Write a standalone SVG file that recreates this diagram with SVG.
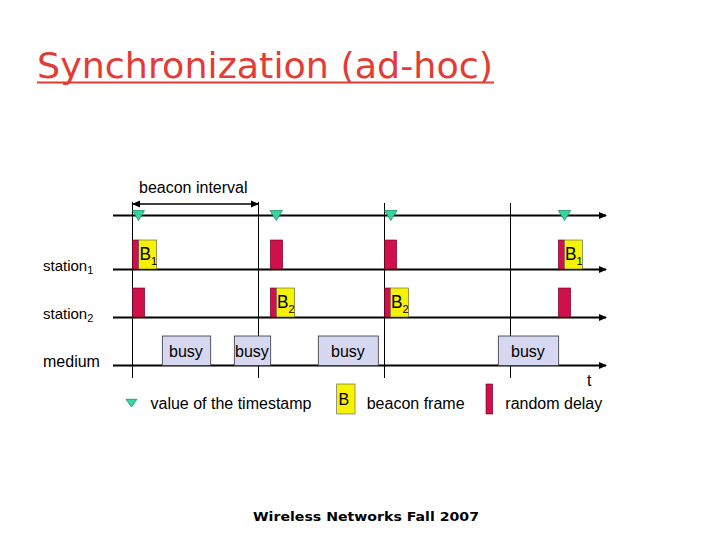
<svg xmlns="http://www.w3.org/2000/svg" width="720" height="540" viewBox="0 0 720 540">
<style>
text{font-family:"Liberation Sans",Arial,sans-serif;fill:#000}
.tl{stroke:#000;stroke-width:2;fill:none}
.vl{stroke:#000;stroke-width:1;fill:none}
.ts{fill:#33d6a0;stroke:#1f8f6a;stroke-width:0.8}
.rd{fill:#d0104c;stroke:#700020;stroke-width:0.6}
.yb{fill:#f7f200;stroke:#555;stroke-width:0.6}
.bz{fill:#d6d7f0;stroke:#333;stroke-width:0.8}
.lb{font-size:16px}
.bl{font-size:18px}
.sb{font-size:11px}
</style>
<defs>
<marker id="ah" markerWidth="8" markerHeight="8" refX="7" refY="4" orient="auto" markerUnits="userSpaceOnUse">
<path d="M0,0.5 L8,4 L0,7.5 Z" fill="#000"/>
</marker>
<marker id="ah2" markerWidth="8" markerHeight="8" refX="7" refY="4" orient="auto-start-reverse" markerUnits="userSpaceOnUse">
<path d="M0,0.5 L8,4 L0,7.5 Z" fill="#000"/>
</marker>
</defs>
<rect width="720" height="540" fill="#fff"/>
<g id="title">
<text x="37" y="78" style="font-family:'DejaVu Sans',Verdana,sans-serif;font-size:36px;fill:#e33b36" textLength="456" lengthAdjust="spacingAndGlyphs">Synchronization (ad-hoc)</text>
<line x1="37" y1="82.5" x2="494" y2="82.5" stroke="#e33b36" stroke-width="2"/>
</g>
<g id="connectors">
<line class="vl" x1="132.5" y1="202" x2="132.5" y2="378"/>
<line class="vl" x1="258.5" y1="202" x2="258.5" y2="378"/>
<line class="vl" x1="384.5" y1="203" x2="384.5" y2="378"/>
<line class="vl" x1="510.5" y1="203" x2="510.5" y2="378"/>
<line class="tl" x1="113" y1="215.5" x2="606" y2="215.5" marker-end="url(#ah)"/>
<line class="tl" x1="113" y1="269.5" x2="606" y2="269.5" marker-end="url(#ah)"/>
<line class="tl" x1="113" y1="317.5" x2="606" y2="317.5" marker-end="url(#ah)"/>
<line class="tl" x1="113" y1="365.5" x2="606" y2="365.5" marker-end="url(#ah)"/>
<line x1="133" y1="204" x2="258" y2="204" stroke="#000" stroke-width="1.5" marker-start="url(#ah2)" marker-end="url(#ah)"/>
</g>
<g id="labels">
<text class="lb" x="139" y="192.5">beacon interval</text>
<text x="43" y="270.5" font-size="15">station<tspan font-size="11" dy="3">1</tspan></text>
<text x="43" y="319" font-size="15">station<tspan font-size="11" dy="3">2</tspan></text>
<text x="43" y="366.5" font-size="16">medium</text>
<text class="lb" x="587" y="386">t</text>
</g>
<g id="timestamps">
<polygon class="ts" points="132.5,210.5 144.5,210.5 138.5,220.5"/>
<polygon class="ts" points="270,210.5 282.5,210.5 276.2,220.5"/>
<polygon class="ts" points="384.5,210.5 397,210.5 390.8,220.5"/>
<polygon class="ts" points="558.3,210.5 570.7,210.5 564.5,220.5"/>
</g>
<g id="station1">
<rect class="rd" x="132.5" y="240" width="6.2" height="29"/>
<rect class="yb" x="138.7" y="240" width="18" height="29"/>
<text class="bl" x="139.5" y="260" textLength="11.5" lengthAdjust="spacingAndGlyphs">B</text><text class="sb" x="151" y="265">1</text>
<rect class="rd" x="270.3" y="240" width="12.4" height="29"/>
<rect class="rd" x="384.5" y="240" width="12.2" height="29"/>
<rect class="rd" x="558.3" y="240" width="6" height="29"/>
<rect class="yb" x="564.3" y="240" width="18" height="29"/>
<text class="bl" x="565" y="260" textLength="11.5" lengthAdjust="spacingAndGlyphs">B</text><text class="sb" x="576.5" y="265">1</text>
</g>
<g id="station2">
<rect class="rd" x="132.5" y="288" width="12.2" height="29"/>
<rect class="rd" x="270.3" y="288" width="6" height="29"/>
<rect class="yb" x="276.3" y="288" width="18.4" height="29"/>
<text class="bl" x="277" y="308" textLength="11.5" lengthAdjust="spacingAndGlyphs">B</text><text class="sb" x="288.5" y="313">2</text>
<rect class="rd" x="384.5" y="288" width="5.8" height="29"/>
<rect class="yb" x="390.3" y="288" width="18.4" height="29"/>
<text class="bl" x="391" y="308" textLength="11.5" lengthAdjust="spacingAndGlyphs">B</text><text class="sb" x="402.5" y="313">2</text>
<rect class="rd" x="558.3" y="288" width="12.4" height="29"/>
</g>
<g id="medium">
<rect class="bz" x="162.3" y="336" width="48.4" height="29.5"/>
<text class="lb" x="169" y="356.5">busy</text>
<rect class="bz" x="234.3" y="336" width="36.4" height="29.5"/>
<text class="lb" x="235" y="356.5">busy</text>
<rect class="bz" x="318.3" y="336" width="60" height="29.5"/>
<text class="lb" x="331" y="356.5">busy</text>
<rect class="bz" x="498.3" y="336" width="60.4" height="29.5"/>
<text class="lb" x="511" y="356.5">busy</text>
</g>
<g id="legend">
<polygon class="ts" points="126,399.3 137,399.3 131.5,407"/>
<text class="lb" x="150.5" y="408.5">value of the timestamp</text>
<rect class="yb" x="336.7" y="384" width="18.3" height="30"/>
<text class="lb" x="338.5" y="405" font-size="17">B</text>
<text class="lb" x="366.7" y="408.5">beacon frame</text>
<rect class="rd" x="486" y="384" width="6.7" height="30"/>
<text class="lb" x="505.3" y="408.5">random delay</text>
</g>
<g id="footer">
<text x="253" y="521" style="font-family:'DejaVu Sans',Verdana,sans-serif;font-weight:bold;font-size:13px" textLength="226" lengthAdjust="spacingAndGlyphs">Wireless Networks Fall 2007</text>
</g>
</svg>
